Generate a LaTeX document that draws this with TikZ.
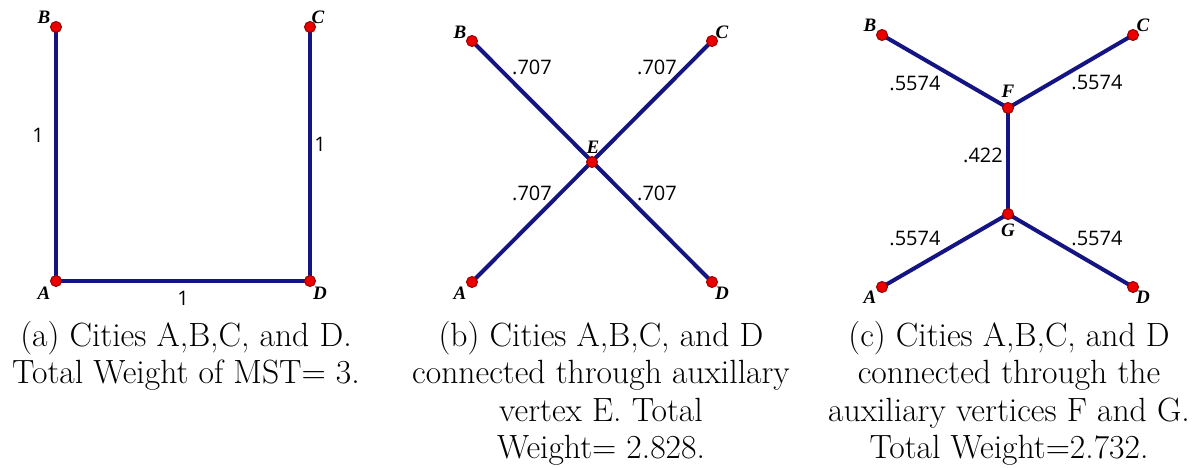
\documentclass[tikz,border=0pt]{standalone}
\usepackage{fontspec}
\setmainfont{Latin Modern Roman}
\newfontfamily\vfont{Liberation Serif}
\newfontfamily\efont{Open Sans}
\usetikzlibrary{backgrounds}
\definecolor{edgeblue}{RGB}{20,20,130}
\definecolor{dotred}{RGB}{235,0,0}
\definecolor{dotrim}{RGB}{150,0,0}
\tikzset{
  dot/.style={circle,fill=dotred,draw=dotrim,line width=0.5pt,inner sep=0pt,minimum size=5.5pt},
  edge/.style={draw=edgeblue,line width=2pt},
  vlab/.style={font=\vfont\bfseries\itshape\fontsize{9.5}{11}\selectfont,inner sep=0pt},
  elab/.style={font=\efont\fontsize{10}{12}\selectfont,inner sep=0pt},
  captext/.style={font=\fontsize{16.8}{18.7}\selectfont,align=center,inner sep=0pt,anchor=north}
}
\begin{document}
\begin{tikzpicture}[x=0.5pt,y=-0.5pt]
\useasboundingbox (0,0) rectangle (1202,467);
% panel (a)
\node[dot] (aB) at (56,27) {};
\node[dot] (aC) at (310,27) {};
\node[dot] (aA) at (56,281) {};
\node[dot] (aD) at (310,281) {};
\node[vlab] (laB) at (44,17) {B};
\node[vlab] (laC) at (318,17) {C};
\node[vlab] (laA) at (44,293) {A};
\node[vlab] (laD) at (320,293) {D};
\node[elab] (wa1) at (38,135) {1};
\node[elab] (wa2) at (320,144) {1};
\node[elab] (wa3) at (183,298) {1};
% panel (b)
\node[dot] (bB) at (472,41) {};
\node[dot] (bC) at (712,41) {};
\node[dot] (bE) at (592,162) {};
\node[dot] (bA) at (472,282) {};
\node[dot] (bD) at (712,282) {};
\node[vlab] (lbB) at (460,32) {B};
\node[vlab] (lbC) at (722,32) {C};
\node[vlab] (lbE) at (593,147) {E};
\node[vlab] (lbA) at (460,293) {A};
\node[vlab] (lbD) at (722,293) {D};
\node[elab] (wb1) at (532,67) {.707};
\node[elab] (wb2) at (657,67) {.707};
\node[elab] (wb3) at (532,193) {.707};
\node[elab] (wb4) at (657,193) {.707};
% panel (c)
\node[dot] (cB) at (882,35) {};
\node[dot] (cC) at (1133,35) {};
\node[dot] (cF) at (1008,108) {};
\node[dot] (cG) at (1008,214) {};
\node[dot] (cA) at (882,287) {};
\node[dot] (cD) at (1133,287) {};
\node[vlab] (lcB) at (870,25) {B};
\node[vlab] (lcC) at (1143,25) {C};
\node[vlab] (lcF) at (1008,91) {F};
\node[vlab] (lcG) at (1008,230) {G};
\node[vlab] (lcA) at (870,297) {A};
\node[vlab] (lcD) at (1143,297) {D};
\node[elab] (wc1) at (915,83) {.5574};
\node[elab] (wc2) at (1097,82) {.5574};
\node[elab] (wc3) at (983,155) {.422};
\node[elab] (wc4) at (915,238) {.5574};
\node[elab] (wc5) at (1097,238) {.5574};
% edges
\begin{pgfonlayer}{background}
\draw[edge] (aB.center) -- (aA.center) -- (aD.center) -- (aC.center);
\draw[edge] (bB.center) -- (bD.center);
\draw[edge] (bA.center) -- (bC.center);
\draw[edge] (cB.center) -- (cF.center) -- (cC.center);
\draw[edge] (cF.center) -- (cG.center);
\draw[edge] (cA.center) -- (cG.center) -- (cD.center);
\end{pgfonlayer}
% captions
\node[captext] (capa) at (186,321) {(a) Cities A,B,C, and D.\\Total Weight of MST= 3.};
\node[captext] (capb) at (601,321) {(b) Cities A,B,C, and D\\connected through auxillary\\vertex E. Total\\Weight= 2.828.};
\node[captext] (capc) at (1009,321) {(c) Cities A,B,C, and D\\connected through the\\auxiliary vertices F and G.\\Total Weight=2.732.};
\end{tikzpicture}
\end{document}
